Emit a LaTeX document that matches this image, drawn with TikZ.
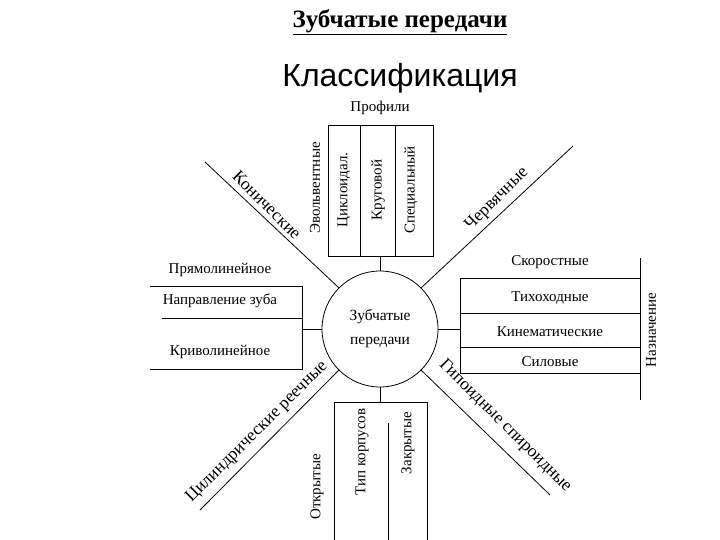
\documentclass[tikz,border=0pt]{standalone}
\usepackage{fontspec}
\setmainfont{Liberation Serif}
\newfontfamily\klsans{Liberation Sans}
\begin{document}
\begin{tikzpicture}[x=1pt,y=-1pt,line width=0.8pt,
  lab/.style={font=\fontsize{15}{17}\selectfont,inner sep=0pt},
  vlab/.style={lab,rotate=90},
  dlab/.style={font=\fontsize{17.5}{19}\selectfont,inner sep=0pt}]
\useasboundingbox (0,0) rectangle (720,540);
\node[font=\fontsize{25}{28}\selectfont\bfseries] (t1) at (400,22) {\underline{Зубчатые передачи}};
\node[font=\klsans\fontsize{32}{36}\selectfont] (t2) at (400,78) {Классификация};
\node[circle,draw,minimum size=116pt,inner sep=0pt,align=center,font=\fontsize{15.5}{24}\selectfont] (c) at (380,329) {Зубчатые\\передачи};
% top box
\node[lab] (prof) at (380,108) {Профили};
\draw (328,125) rectangle (433,256);
\draw (360,125) -- (360,256) (395,125) -- (395,256);
\coordinate (pb) at (380,256);
\draw (pb) -- (c.north);
\node[vlab] (e1) at (315,188) {Эвольвентные};
\node[vlab] (e2) at (344,190) {Циклоидал.};
\node[vlab] (e3) at (378,190) {Круговой};
\node[vlab] (e4) at (411,190) {Специальный};
% left box
\node[lab] (l0) at (220,270) {Прямолинейное};
\node[lab] (l1) at (220,301) {Направление зуба};
\node[lab] (l2) at (220,352) {Криволинейное};
\draw (150,286) -- (302,286) -- (302,369) -- (150,369);
\draw (162,318) -- (302,318);
\coordinate (lb) at (302,329);
\draw (lb) -- (c.west);
% right box
\node[lab] (r0) at (550,262) {Скоростные};
\node[lab] (r1) at (550,298) {Тихоходные};
\node[lab] (r2) at (550,332) {Кинематические};
\node[lab] (r3) at (550,362) {Силовые};
\draw (640,278) -- (460,278) -- (460,373) -- (640,373);
\draw (460,313) -- (640,313) (460,347) -- (640,347);
\draw (640,258) -- (640,400);
\node[vlab] (naz) at (651,330) {Назначение};
\coordinate (rb) at (460,329);
\draw (rb) -- (c.east);
% diagonals
\coordinate (d1) at (205,162);
\coordinate (d2) at (573,146);
\coordinate (d3) at (200,510);
\coordinate (d4) at (550,495);
\draw (d1) -- (c.135);
\draw (d2) -- (c.45);
\draw (d3) -- (c.225);
\draw (d4) -- (c.-45);
\node[dlab,rotate=-45] (k) at (267,205) {Конические};
\node[dlab,rotate=45] (ch) at (497,199) {Червячные};
\node[dlab,rotate=45] (cy) at (257,432) {Цилиндрические реечные};
\node[dlab,rotate=-45] (gi) at (505,426) {Гипоидные спироидные};
% bottom box
\draw (334,540) -- (334,402) -- (427,402) -- (427,540);
\draw (388,423) -- (388,540);
\coordinate (bb) at (380,402);
\draw (bb) -- (c.south);
\node[vlab] (b1) at (317,487) {Открытые};
\node[vlab] (b2) at (362,452) {Тип корпусов};
\node[vlab] (b3) at (408,443) {Закрытые};
\end{tikzpicture}
\end{document}
